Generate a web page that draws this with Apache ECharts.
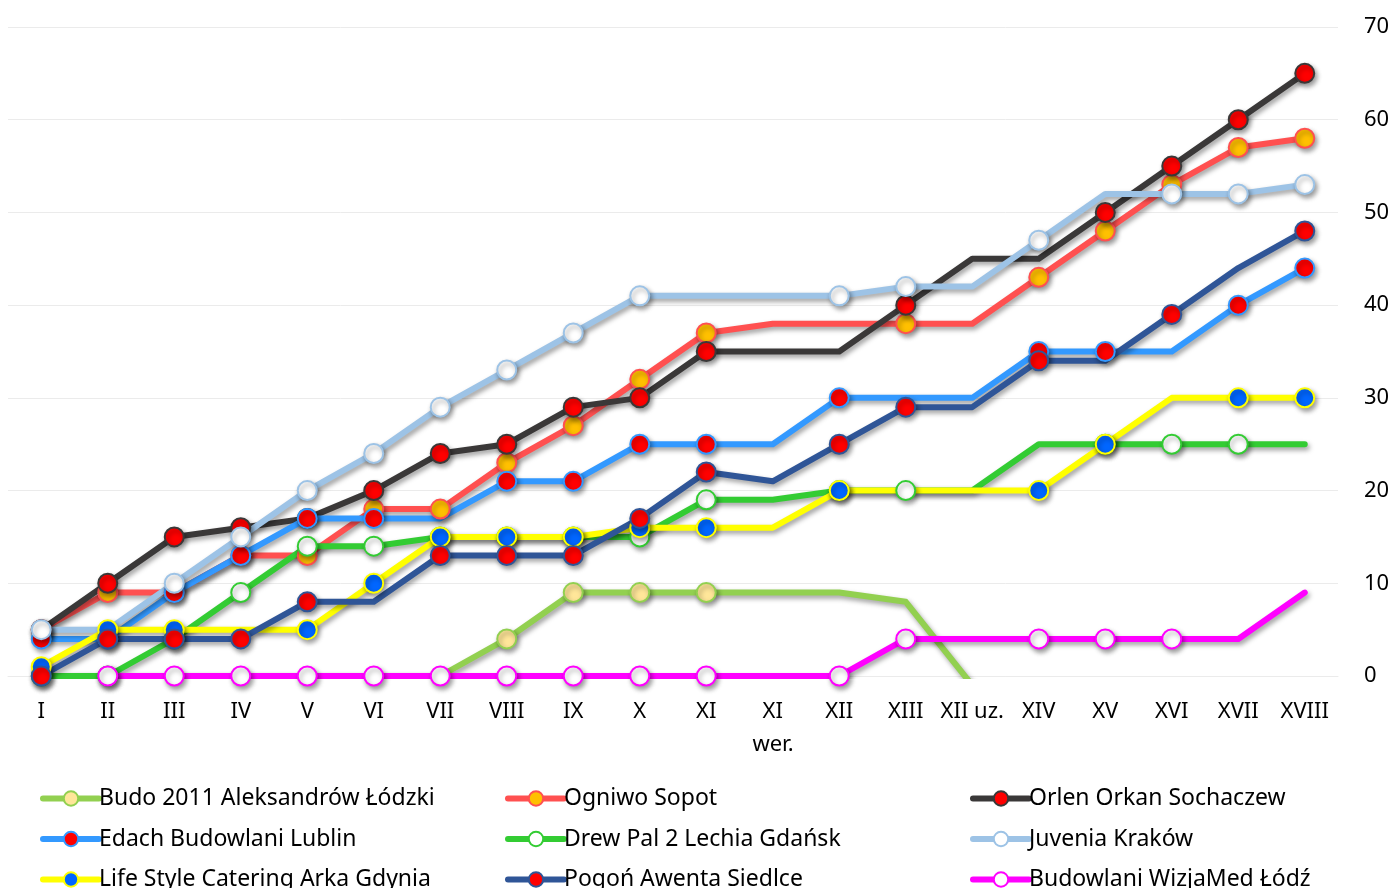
<!DOCTYPE html>
<html>
<head>
<meta charset="utf-8">
<script src="https://cdn.jsdelivr.net/npm/echarts@6/dist/echarts.min.js"></script>
<style>
html,body{margin:0;padding:0;background:#fff;}
#c{width:1395px;height:888px;}
</style>
</head>
<body>
<div id="c"></div>
<script>
// ---- data ----
const categories = ['I','II','III','IV','V','VI','VII','VIII','IX','X','XI','XI','XII','XIII','XII uz.','XIV','XV','XVI','XVII','XVIII'];
const axisName = 'wer.';
const yMin = 0, yMax = 70, yStep = 10;

const seriesNames = [
  'Budo 2011 Aleksandrów Łódzki',
  'Ogniwo Sopot',
  'Orlen Orkan Sochaczew',
  'Edach Budowlani Lublin',
  'Drew Pal 2 Lechia Gdańsk',
  'Juvenia Kraków',
  'Life Style Catering Arka Gdynia',
  'Pogoń Awenta Siedlce',
  'Budowlani WizjaMed Łódź'
];

const budoValues      = [0,0,0,0,0,0,0,4,9,9,9,9,9,8,-1,null,null,null,null,null];
const ogniwoValues    = [5,9,9,13,13,18,18,23,27,32,37,38,38,38,38,43,48,53,57,58];
const orlenValues     = [5,10,15,16,17,20,24,25,29,30,35,35,35,40,45,45,50,55,60,65];
const edachValues     = [4,4,9,13,17,17,17,21,21,25,25,25,30,30,30,35,35,35,40,44];
const drewPalValues   = [0,0,4,9,14,14,15,15,15,15,19,19,20,20,20,25,25,25,25,25];
const juveniaValues   = [5,5,10,15,20,24,29,33,37,41,41,41,41,42,42,47,52,52,52,53];
const lifeStyleValues = [1,5,5,5,5,10,15,15,15,16,16,16,20,20,20,20,25,30,30,30];
const pogonValues     = [0,4,4,4,8,8,13,13,13,17,22,21,25,29,29,34,34,39,44,48];
const budowlaniValues = [null,0,0,0,0,0,0,0,0,0,0,0,0,4,4,4,4,4,4,9];

// rounds (indices) where no marker is shown
const budoNoMarker      = [0,1,2,3,4,5,6,11,12,13,14];
const ogniwoNoMarker    = [11,12,14];
const orlenNoMarker     = [11,12,14,15];
const edachNoMarker     = [6,11,13,14,17];
const drewPalNoMarker   = [11,14,15,19];
const juveniaNoMarker   = [1,10,11,14,16];
const lifeStyleNoMarker = [3,11,13,14,17];
const pogonNoMarker     = [5,11,14,16,18];
const budowlaniNoMarker = [11,14,18,19];

// ---- styles ----
const styles = [
  {line:'#92D050', fill:'#FFE699'},
  {line:'#FF5050', fill:'#FFC000'},
  {line:'#3A3838', fill:'#FF0000'},
  {line:'#3399FF', fill:'#FF0000'},
  {line:'#33CC33', fill:'#FFFFFF'},
  {line:'#9DC3E6', fill:'#FFFFFF'},
  {line:'#FFFF00', fill:'#0066FF'},
  {line:'#2F5597', fill:'#FF0000'},
  {line:'#FF00FF', fill:'#FFFFFF'}
];
const allValues = [budoValues, ogniwoValues, orlenValues, edachValues, drewPalValues, juveniaValues, lifeStyleValues, pogonValues, budowlaniValues];
const allNoMarker = [budoNoMarker, ogniwoNoMarker, orlenNoMarker, edachNoMarker, drewPalNoMarker, juveniaNoMarker, lifeStyleNoMarker, pogonNoMarker, budowlaniNoMarker];

const FONT = 'Noto Sans';
const series = seriesNames.map((name, i) => ({
  name: name,
  type: 'line',
  data: allValues[i].map((v, j) => allNoMarker[i].indexOf(j) >= 0 ? {value: v, symbol: 'none'} : {value: v}),
  symbol: 'circle',
  symbolSize: 19,
  showSymbol: true,
  showAllSymbol: true,
  connectNulls: false,
  clip: true,
  lineStyle: {
    color: styles[i].line, width: 6, cap: 'round', join: 'round',
    shadowColor: 'rgba(0,0,0,0.38)', shadowBlur: 5, shadowOffsetX: 2, shadowOffsetY: 3
  },
  itemStyle: {
    color: styles[i].fill, borderColor: styles[i].line, borderWidth: 2,
    shadowColor: 'rgba(0,0,0,0.38)', shadowBlur: 5, shadowOffsetX: 2, shadowOffsetY: 3
  },
  emphasis: {disabled: true}
}));

function legendFor(names, left) {
  return {
    orient: 'vertical',
    left: left,
    top: 787,
    width: 440,
    height: 160,
    padding: 0,
    itemGap: 17.5,
    itemWidth: 56,
    itemHeight: 18,
    data: names,
    textStyle: {fontFamily: FONT, fontSize: 23, color: '#000', padding: [0,0,0,-5]},
    lineStyle: {width: 6, shadowBlur: 0, shadowOffsetX: 0, shadowOffsetY: 0},
    itemStyle: {borderWidth: 2, shadowBlur: 0, shadowOffsetX: 0, shadowOffsetY: 0}
  };
}

const chart = echarts.init(document.getElementById('c'), null, {renderer: 'canvas'});
chart.setOption({
  animation: false,
  backgroundColor: '#fff',
  grid: {left: 8, right: 57, top: 27, bottom: 212, containLabel: false},
  xAxis: {
    type: 'category',
    data: categories,
    boundaryGap: true,
    name: axisName,
    nameLocation: 'middle',
    nameGap: 58,
    nameTextStyle: {fontFamily: FONT, fontSize: 22, color: '#000', padding: [0,0,0,200]},
    axisLine: {show: true, lineStyle: {color: '#EBEBEB', width: 1}},
    axisTick: {show: false},
    axisLabel: {fontFamily: FONT, fontSize: 22, color: '#000', margin: 25, interval: 0}
  },
  yAxis: {
    type: 'value',
    position: 'right',
    min: yMin, max: yMax, interval: yStep,
    axisLine: {show: false},
    axisTick: {show: false},
    splitLine: {show: true, lineStyle: {color: '#EBEBEB', width: 1}},
    axisLabel: {fontFamily: FONT, fontSize: 22, color: '#000', margin: 26}
  },
  legend: [
    legendFor([seriesNames[0], seriesNames[3], seriesNames[6]], 40),
    legendFor([seriesNames[1], seriesNames[4], seriesNames[7]], 505),
    legendFor([seriesNames[2], seriesNames[5], seriesNames[8]], 970)
  ],
  series: series
});
</script>
</body>
</html>
